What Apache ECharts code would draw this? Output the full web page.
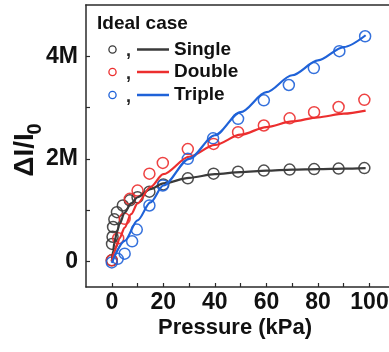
<!DOCTYPE html>
<html>
<head>
<meta charset="utf-8">
<script src="https://cdn.jsdelivr.net/npm/echarts@6/dist/echarts.min.js"></script>
<style>
  html, body { margin: 0; padding: 0; background: #fff; overflow: hidden; }
  #chart { width: 389px; height: 352px; }
</style>
</head>
<body>
<div id="chart"></div>
<script>
// Pressure (kPa) vs. relative current change (millions), measured points and fitted curves
const seriesNames = ['Single', 'Double', 'Triple'];
const seriesColors = ['#3a3a3a', '#ec2e2e', '#1f62d8'];

const singlePoints = [[0,0.02],[0.1,0.34],[0.3,0.48],[0.5,0.67],[1,0.82],[2,0.96],[4.3,1.09],[7,1.19],[10,1.25],[14.6,1.36],[20,1.5],[29.5,1.62],[39.5,1.71],[49,1.75],[59,1.77],[69,1.79],[78.5,1.80],[88,1.81],[98,1.82]];
const doublePoints = [[0,0.02],[2.5,0.45],[5,0.83],[7,1.22],[10,1.38],[14.6,1.71],[19.8,1.92],[29.5,2.19],[39.5,2.29],[49,2.52],[59,2.65],[69,2.79],[78.5,2.91],[88,3.01],[98,3.15]];
const triplePoints = [[0,-0.02],[2.3,0.05],[5,0.15],[7.9,0.39],[9.7,0.62],[14.6,1.09],[19.8,1.48],[29.5,2.0],[39.3,2.4],[49,2.78],[59,3.14],[68.7,3.44],[78.4,3.77],[88.3,4.10],[98.3,4.39]];

const singleFit = [[0,0],[0.5,0.2],[1,0.36],[2,0.57],[3,0.73],[5,0.95],[7.5,1.13],[10,1.25],[15,1.41],[20,1.52],[30,1.63],[40,1.70],[50,1.74],[60,1.77],[70,1.79],[80,1.80],[90,1.81],[98.5,1.82]];
const doubleFit = [[0,0],[1,0.18],[2,0.33],[3,0.45],[5,0.66],[7.5,0.92],[10,1.13],[15,1.45],[20,1.70],[30,2.04],[40,2.27],[50,2.47],[60,2.62],[70,2.73],[80,2.81],[90,2.88],[98.5,2.94]];
const tripleFit = [[0,-0.03],[5,0.4],[10,0.8],[15,1.15],[20,1.48],[30,2.0],[40,2.46],[50,2.91],[60,3.3],[70,3.63],[80,3.92],[90,4.18],[98.5,4.41]];

const xLabels = [0, 20, 40, 60, 80, 100];
const xTicks = [0, 10, 20, 30, 40, 50, 60, 70, 80, 90, 100];
const yLabels = [0, 2, 4];
const yTicks = [0, 1, 2, 3, 4];

// the plot frame runs past the right edge of the canvas
const xRange = [-10, 119.2];
const yRange = [-0.5, 5];

const legendTitle = 'Ideal case';
const xTitle = 'Pressure (kPa)';

const FONT = 'Liberation Sans, Arial, sans-serif';
const pointSets = [singlePoints, doublePoints, triplePoints];
const fitSets = [singleFit, doubleFit, tripleFit];

const chart = echarts.init(document.getElementById('chart'), null, { renderer: 'canvas' });

const axisColor = '#2a2a2a';
const labelStyle = { color: '#111', fontFamily: FONT, fontWeight: 'bold', fontSize: 23 };

const series = [];
fitSets.forEach((d, i) => {
  series.push({
    name: seriesNames[i] + ' fit',
    type: 'line',
    data: d,
    smooth: 0.3,
    smoothMonotone: 'x',
    showSymbol: false,
    symbol: 'none',
    lineStyle: { color: seriesColors[i], width: 2.2 },
    z: 3,
    silent: true
  });
});
pointSets.forEach((d, i) => {
  series.push({
    name: seriesNames[i],
    type: 'scatter',
    data: d,
    symbol: 'circle',
    symbolSize: 11,
    itemStyle: { color: 'rgba(255,255,255,0)', borderColor: seriesColors[i], borderWidth: 1.5, opacity: 0.9 },
    z: 2,
    silent: true
  });
});

// legend drawn as marker + comma + line sample + name
const legendGraphics = [{
  type: 'text', x: 97, y: 24,
  style: { text: legendTitle, font: 'bold 19px ' + FONT, fill: '#111', verticalAlign: 'middle', align: 'left' }
}];
const rowY = [49.5, 72, 95];
seriesNames.forEach((name, i) => {
  legendGraphics.push(
    { type: 'circle', shape: { cx: 112.5, cy: rowY[i], r: 3.6 }, style: { fill: 'none', stroke: seriesColors[i], lineWidth: 1.3 } },
    { type: 'text', x: 126, y: rowY[i] + 2, style: { text: ',', font: 'bold 18px ' + FONT, fill: '#222', verticalAlign: 'middle', align: 'left' } },
    { type: 'line', shape: { x1: 137, y1: rowY[i], x2: 169, y2: rowY[i] }, style: { stroke: seriesColors[i], lineWidth: 2.5 } },
    { type: 'text', x: 174, y: rowY[i], style: { text: name, font: 'bold 19px ' + FONT, fill: '#111', verticalAlign: 'middle', align: 'left' } }
  );
});

const option = {
  backgroundColor: '#fff',
  animation: false,
  grid: {
    left: 86, top: 5, right: -30, bottom: 65,
    outerBoundsMode: 'none',
    containLabel: false,
    show: false
  },
  xAxis: {
    type: 'value', min: xRange[0], max: xRange[1],
    axisLine: { show: true, onZero: false, lineStyle: { color: axisColor, width: 1.5 } },
    axisTick: { show: true, inside: true, length: 4, customValues: xTicks, lineStyle: { color: axisColor, width: 1.2 } },
    axisLabel: { customValues: xLabels, margin: 4, ...labelStyle },
    splitLine: { show: false }
  },
  yAxis: {
    type: 'value', min: yRange[0], max: yRange[1],
    axisLine: { show: true, onZero: false, lineStyle: { color: axisColor, width: 1.5 } },
    axisTick: { show: true, inside: true, length: 4, customValues: yTicks, lineStyle: { color: axisColor, width: 1.2 } },
    axisLabel: { customValues: yLabels, margin: 8, ...labelStyle, formatter: v => v === 0 ? '0' : v + 'M' },
    splitLine: { show: false }
  },
  series: series,
  graphic: [
    { type: 'text', x: 25, y: 155, rotation: Math.PI / 2,
      style: { text: 'ΔI/I', font: 'bold 28px ' + FONT, fill: '#111', align: 'center', verticalAlign: 'middle' } },
    { type: 'text', x: 35.5, y: 129, rotation: Math.PI / 2,
      style: { text: '0', font: 'bold 20px ' + FONT, fill: '#111', align: 'center', verticalAlign: 'middle' } },
    { type: 'text', x: 235, y: 328,
      style: { text: xTitle, font: 'bold 22px ' + FONT, fill: '#111', align: 'center', verticalAlign: 'middle' } },
    ...legendGraphics
  ]
};

chart.setOption(option);

// top frame edge, placed from the axis scales
const topLeft = chart.convertToPixel({ gridIndex: 0 }, [xRange[0], yRange[1]]);
const topRight = chart.convertToPixel({ gridIndex: 0 }, [xRange[1], yRange[1]]);
chart.setOption({
  graphic: [{
    id: 'frameTop', type: 'line', z: 10,
    shape: { x1: topLeft[0] - 0.75, y1: topLeft[1], x2: topRight[0], y2: topRight[1] },
    style: { stroke: axisColor, lineWidth: 1.5 }
  }]
});
</script>
</body>
</html>
